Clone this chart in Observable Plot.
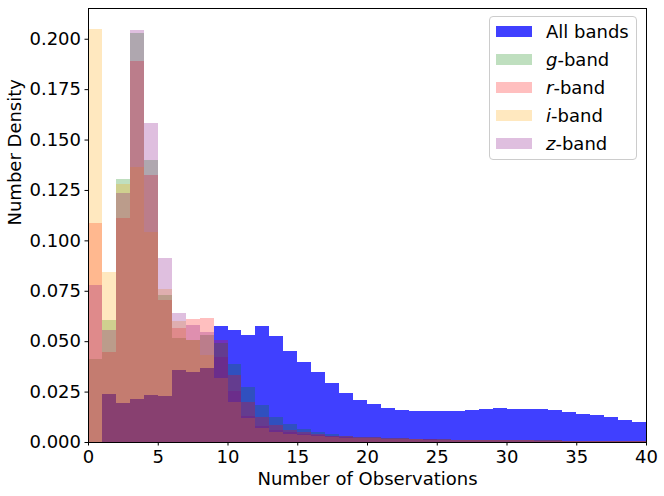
<!DOCTYPE html>
<html>
<head>
<meta charset="utf-8">
<script src="https://cdn.jsdelivr.net/npm/d3@7"></script>
<script src="https://cdn.jsdelivr.net/npm/@observablehq/plot@0.6"></script>
<style>
  body { margin: 0; background: #fff; }
  #wrap { position: relative; width: 664px; height: 496px; font-family: "DejaVu Sans", sans-serif; }
  #legend {
    position: absolute; left: 489px; top: 16px; width: 146px; height: 142px;
    border: 1px solid #cccccc; border-radius: 4px; background: rgba(255,255,255,0.8);
    font-family: "DejaVu Sans", sans-serif; font-size: 18px; color: #000;
  }
  .row { position: absolute; left: 0; height: 20px; display: flex; align-items: center; white-space: nowrap; }
  .sw { width: 36px; height: 11px; margin-left: 6px; margin-right: 14px; flex: none; }
</style>
</head>
<body>
<div id="wrap"></div>
<script>
// Bin left edges (width 1)
const binStarts = [0,1,2,3,4,5,6,7,8,9,10,11,12,13,14,15,16,17,18,19,20,21,22,23,24,25,26,27,28,29,30,31,32,33,34,35,36,37,38,39];

const allBands = [0,0.0238,0.0195,0.0213,0.0233,0.0228,0.0357,0.0347,0.0367,0.0575,
  0.0555,0.053,0.0575,0.0525,0.0451,0.0396,0.0347,0.0292,0.0243,0.0208,
  0.0188,0.0168,0.0159,0.0154,0.0154,0.0154,0.0154,0.0159,0.0164,0.0169,
  0.0164,0.0164,0.0164,0.0159,0.0149,0.0139,0.0134,0.0124,0.0109,0.0099];

const gBand = [0.041,0.0605,0.1303,0.2027,0.1397,0.0728,0.0515,0.0505,0.053,0.049,
  0.0387,0.0272,0.0183,0.0122,0.0089,0.0063,0.005,0.0038,0.0031,0.0025,
  0.0023,0.002,0.0018,0.0015,0.0014,0.0013,0.0012,0.0011,0.001,0.001,
  0.0009,0.0009,0.0008,0.0008,0.0007,0.0007,0.0006,0.0006,0.0005,0.0005];

const rBand = [0.1085,0.0446,0.111,0.1888,0.1323,0.0704,0.0565,0.061,0.0614,0.0505,
  0.0332,0.0198,0.0124,0.0084,0.006,0.0048,0.004,0.003,0.0028,0.0025,
  0.0023,0.0021,0.002,0.0016,0.0015,0.0013,0.0012,0.0011,0.001,0.001,
  0.0009,0.0009,0.0008,0.0008,0.0007,0.0007,0.0006,0.0006,0.0005,0.0005];

const iBand = [0.205,0.0842,0.1278,0.1363,0.104,0.0758,0.060,0.0505,0.0431,0.0317,
  0.0198,0.0119,0.0069,0.005,0.0042,0.0035,0.003,0.0025,0.0022,0.002,
  0.0018,0.0016,0.0015,0.0013,0.0012,0.0011,0.001,0.001,0.0009,0.0009,
  0.0008,0.0008,0.0007,0.0007,0.0006,0.0006,0.0005,0.0005,0.0005,0.0004];

const zBand = [0.0778,0.0555,0.1234,0.2042,0.158,0.0912,0.0639,0.058,0.0545,0.042,
  0.0253,0.0129,0.0079,0.006,0.0048,0.004,0.0034,0.0028,0.0024,0.0021,
  0.0019,0.0017,0.0016,0.0014,0.0013,0.0012,0.0011,0.001,0.0009,0.0009,
  0.0008,0.0008,0.0007,0.0007,0.0006,0.0006,0.0005,0.0005,0.0005,0.0004];

const seriesNames = ["All bands", "g-band", "r-band", "i-band", "z-band"];
const seriesColors = ["blue", "green", "red", "orange", "purple"];
const seriesOpacity = [0.75, 0.25, 0.25, 0.25, 0.25];
const seriesValues = [allBands, gBand, rBand, iBand, zBand];

const xTicks = [0,5,10,15,20,25,30,35,40];
const yTicks = [0,0.025,0.05,0.075,0.1,0.125,0.15,0.175,0.2];

const rows = (vals) => binStarts.map((b, i) => ({x1: b, x2: b + 1, y: vals[i]}));

const marks = seriesValues.map((vals, k) =>
  Plot.rectY(rows(vals), {
    x1: "x1", x2: "x2", y1: 0, y2: "y",
    fill: seriesColors[k], fillOpacity: seriesOpacity[k],
    inset: 0, shapeRendering: "crispEdges"
  })
);

const chart = Plot.plot({
  width: 664,
  height: 496,
  marginLeft: 88,
  marginRight: 18,
  marginTop: 8,
  marginBottom: 54,
  style: {fontFamily: "DejaVu Sans, sans-serif", fontSize: "18px", color: "black", background: "white"},
  x: {domain: [0, 40]},
  y: {domain: [0, 0.21525]},
  marks: [
    ...marks,
    Plot.frame({stroke: "black", strokeWidth: 1}),
    Plot.axisX({ticks: xTicks, tickSize: 3.5, tickPadding: 4, label: null, fontSize: 18}),
    Plot.axisY({ticks: yTicks, tickFormat: d3.format(".3f"), tickSize: 3.5, tickPadding: 4, label: null, fontSize: 18}),
    Plot.text(["Number of Observations"], {frameAnchor: "bottom", dy: 37, fontSize: 18, fill: "black", lineAnchor: "middle"}),
    Plot.text(["Number Density"], {frameAnchor: "left", dx: -73, rotate: -90, fontSize: 18, fill: "black", lineAnchor: "middle"})
  ]
});

const wrap = document.getElementById("wrap");
wrap.appendChild(chart);

// Legend overlay
const legend = document.createElement("div");
legend.id = "legend";
const labelsHtml = ["All bands", "<i>g</i>-band", "<i>r</i>-band", "<i>i</i>-band", "<i>z</i>-band"];
seriesNames.forEach((name, k) => {
  const row = document.createElement("div");
  row.className = "row";
  row.style.top = (4 + k * 28) + "px";
  const sw = document.createElement("div");
  sw.className = "sw";
  sw.style.background = seriesColors[k];
  sw.style.opacity = seriesOpacity[k];
  const t = document.createElement("span");
  t.innerHTML = labelsHtml[k];
  row.appendChild(sw);
  row.appendChild(t);
  legend.appendChild(row);
});
wrap.appendChild(legend);
</script>
</body>
</html>
